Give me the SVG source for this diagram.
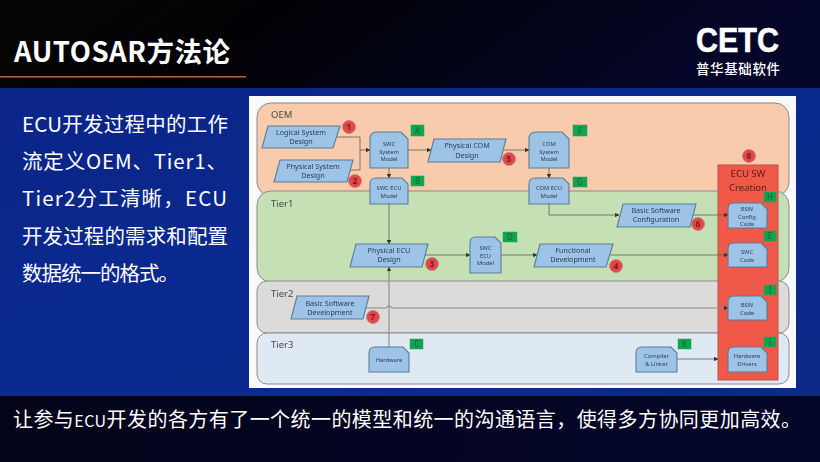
<svg xmlns="http://www.w3.org/2000/svg" width="820" height="462" viewBox="0 0 820 462">
<defs>
<linearGradient id="top" x1="0" y1="0" x2="1" y2="0.15"><stop offset="0" stop-color="#070503"/><stop offset="0.35" stop-color="#010105"/><stop offset="1" stop-color="#04062a"/></linearGradient>
<linearGradient id="band" x1="0" y1="0" x2="1" y2="1"><stop offset="0" stop-color="#0b2488"/><stop offset="0.5" stop-color="#0a2a90"/><stop offset="1" stop-color="#0c2a86"/></linearGradient>
<linearGradient id="foot" x1="0" y1="0" x2="1" y2="0"><stop offset="0" stop-color="#03031a"/><stop offset="1" stop-color="#03062a"/></linearGradient>
<filter id="soft" x="-2%" y="-2%" width="104%" height="104%"><feGaussianBlur stdDeviation="0.45"/></filter>
<marker id="arr" viewBox="0 0 6 6" refX="5.5" refY="3" markerWidth="4.5" markerHeight="4.5" markerUnits="userSpaceOnUse" orient="auto"><path d="M0 0L6 3L0 6Z" fill="#333"/></marker>
</defs>
<style>
.cjk{font-family:"Noto Sans CJK SC","Noto Sans",sans-serif;fill:#fff}
.lane{stroke:#8b8b8b;stroke-width:1}
.shape{fill:#9dc3e6;stroke:#5b7d96;stroke-width:1.1}
.t{font-family:"Noto Sans","Liberation Sans",sans-serif;font-size:7.2px;fill:#2c4058;text-anchor:middle}
.s{font-size:5.8px}
.lbl{font-family:"Noto Sans","Liberation Sans",sans-serif;font-size:9.5px;fill:#4a4a4a}
.g{fill:#0aa650;stroke:#2f9a5a;stroke-width:.5}
.gt{font-family:"Noto Sans","Liberation Sans",sans-serif;font-size:8px;fill:#1d5a30;text-anchor:middle}
.b{fill:#e0474a;stroke:#c98080;stroke-width:.8}
.bt{font-family:"Noto Sans","Liberation Sans",sans-serif;font-size:8.5px;font-weight:700;fill:#7d1a1c;text-anchor:middle}
.c{fill:none;stroke:#5a5f55;stroke-width:.8}
.c2{fill:none;stroke:#8a8a8a;stroke-width:1.1}
</style>
<rect width="820" height="462" fill="#03031a"/>
<rect width="820" height="88" fill="url(#top)"/>
<rect y="88" width="820" height="308" fill="url(#band)"/>
<rect y="396" width="820" height="66" fill="url(#foot)"/>
<rect x="0" y="76" width="246" height="1.6" fill="#a9643c"/>
<text class="cjk" x="14" y="62" font-size="27.5" font-weight="700" textLength="216">AUTOSAR方法论</text>
<g id="logo">
<text x="696" y="52" font-family="'Liberation Sans',sans-serif" font-size="35" font-weight="700" fill="#fff" stroke="#fff" stroke-width=".6" textLength="83" lengthAdjust="spacingAndGlyphs">CETC</text>
<text class="cjk" x="696" y="74" font-size="13.5" font-weight="500" textLength="84">普华基础软件</text>
</g>
<g id="intro" class="cjk" font-size="20.500">
<text x="22" y="132" textLength="206">ECU开发过程中的工作</text>
<text x="22" y="169" textLength="205">流定义OEM、Tier1、</text>
<text x="22" y="206" textLength="205">Tier2分工清晰，ECU</text>
<text x="22" y="244" textLength="206">开发过程的需求和配置</text>
<text x="22" y="281" textLength="157">数据统一的格式。</text>
</g>
<text class="cjk" x="13" y="427" font-size="20" textLength="788">让参与<tspan font-size="16">ECU</tspan>开发的各方有了一个统一的模型和统一的沟通语言，使得多方协同更加高效。</text>

<rect x="249" y="96" width="547" height="292" fill="#f7f9fb"/>
<g filter="url(#soft)">
<g id="lanes">
<rect id="lane-oem" class="lane" x="257" y="103" width="532" height="93" rx="14" fill="#f8cbad"/>
<rect id="lane-tier1" class="lane" x="257" y="191" width="532" height="91" rx="14" fill="#c5e0b4"/>
<rect id="lane-tier2" class="lane" x="257" y="281" width="532" height="52" rx="10" fill="#dcdbd9"/>
<rect id="lane-tier3" class="lane" x="257" y="333" width="532" height="51" rx="10" fill="#dfe9f4"/>
<text class="lbl" x="271" y="118">OEM</text>
<text class="lbl" x="271" y="207">Tier1</text>
<text class="lbl" x="271" y="297">Tier2</text>
<text class="lbl" x="271" y="348">Tier3</text>
</g>
<g id="ecu-sw-creation">
<rect x="718" y="165" width="60" height="215" fill="#f0584a" stroke="#b9504a" stroke-width="1"/>
<text x="748" y="177" font-family="'Noto Sans',sans-serif" font-size="9.500" fill="#5a2018" text-anchor="middle">ECU SW</text>
<text x="748" y="190.500" font-family="'Noto Sans',sans-serif" font-size="9.500" fill="#5a2018" text-anchor="middle">Creation</text>
<circle class="b" cx="749" cy="156" r="6.5"/><text class="bt" x="749" y="159">8</text>
</g>
<g id="connectors">
<path class="c" d="M336 137H360V170H350"/>
<path class="c" d="M360 150H370" marker-end="url(#arr)"/>
<path class="c" d="M408 150H431" marker-end="url(#arr)"/>
<path class="c" d="M503 150H529" marker-end="url(#arr)"/>
<path class="c" d="M389 168V178" marker-end="url(#arr)"/>
<path class="c" d="M389 204V244" marker-end="url(#arr)"/>
<path class="c" d="M549 168V178" marker-end="url(#arr)"/>
<path class="c" d="M549 204V215H619" marker-end="url(#arr)"/>
<path class="c" d="M693 215H728" marker-end="url(#arr)"/>
<path class="c" d="M425 255H470" marker-end="url(#arr)"/>
<path class="c" d="M501 255H537" marker-end="url(#arr)"/>
<path class="c" d="M610 255H728" marker-end="url(#arr)"/>
<path class="c2" d="M389 347V267" marker-end="url(#arr)"/>
<path class="c2" d="M366 308H386Q389 304 392 308H728" marker-end="url(#arr)"/>
<path class="c" d="M677 359H718" marker-end="url(#arr)"/>
</g>
<g id="n1"><polygon class="shape" points="262,148 268,126 340,126 333,148"/><text class="t" x="301" y="135">Logical System</text><text class="t" x="301" y="144">Design</text><circle class="b" cx="349" cy="127" r="6.5"/><text class="bt" x="349" y="130">1</text></g>
<g id="n2"><polygon class="shape" points="274,182 280,160 353,160 347,182"/><text class="t" x="313" y="169">Physical System</text><text class="t" x="313" y="178">Design</text><circle class="b" cx="355" cy="181" r="6.5"/><text class="bt" x="355" y="184">2</text></g>
<g id="nA"><path class="shape" d="M370 168V139Q370 132 377 132H401L408 139V168Z"/><text class="t s" x="389" y="146">SWC</text><text class="t s" x="389" y="153.500">System</text><text class="t s" x="389" y="161">Model</text><rect class="g" x="411" y="125" width="13" height="11"/><text class="gt" x="417.500" y="133.500">A</text></g>
<g id="nB"><path class="shape" d="M370 204V184Q370 178 376 178H402L408 184V204Z"/><text class="t s" x="389" y="190">SWC ECU</text><text class="t s" x="389" y="198">Model</text><rect class="g" x="411" y="176" width="13" height="10"/><text class="gt" x="417.500" y="184">B</text></g>
<g id="n5"><polygon class="shape" points="428,162 434,139 506,139 500,162"/><text class="t" x="467" y="148">Physical COM</text><text class="t" x="467" y="158">Design</text><circle class="b" cx="509" cy="159" r="6.5"/><text class="bt" x="509" y="162">5</text></g>
<g id="nF"><path class="shape" d="M529 168V139Q529 132 536 132H562L569 139V168Z"/><text class="t s" x="549" y="146">COM</text><text class="t s" x="549" y="153.500">System</text><text class="t s" x="549" y="161">Model</text><rect class="g" x="573" y="125" width="14" height="11"/><text class="gt" x="580" y="133.500">F</text></g>
<g id="nG"><path class="shape" d="M529 204V184Q529 178 535 178H563L569 184V204Z"/><text class="t s" x="549" y="190">COM ECU</text><text class="t s" x="549" y="198">Model</text><rect class="g" x="573" y="177" width="14" height="10"/><text class="gt" x="580" y="185">G</text></g>
<g id="n6"><polygon class="shape" points="617,227 623,204 696,204 690,227"/><text class="t" x="656" y="213">Basic Software</text><text class="t" x="656" y="222">Configuration</text><circle class="b" cx="698" cy="224" r="6.5"/><text class="bt" x="698" y="227">6</text></g>
<g id="nH"><path class="shape" d="M728 228V209Q728 203 734 203H761L767 209V228Z"/><text class="t s" x="747" y="211">BSW</text><text class="t s" x="747" y="218.500">Config</text><text class="t s" x="747" y="226">Code</text><rect class="g" x="764" y="192" width="12" height="10"/><text class="gt" x="770" y="200">H</text></g>
<g id="nE"><path class="shape" d="M728 267V249Q728 243 734 243H761L767 249V267Z"/><text class="t s" x="747" y="254">SWC</text><text class="t s" x="747" y="262">Code</text><rect class="g" x="764" y="231" width="12" height="10"/><text class="gt" x="770" y="239">E</text></g>
<g id="n3"><polygon class="shape" points="350,267 356,244 428,244 422,267"/><text class="t" x="389" y="253">Physical ECU</text><text class="t" x="389" y="262">Design</text><circle class="b" cx="432" cy="264" r="6.5"/><text class="bt" x="432" y="267">3</text></g>
<g id="nD"><path class="shape" d="M470 273V243Q470 237 476 237H495L501 243V273Z"/><text class="t s" x="485.500" y="250">SWC</text><text class="t s" x="485.500" y="257.500">ECU</text><text class="t s" x="485.500" y="265">Model</text><rect class="g" x="503" y="232" width="14" height="10"/><text class="gt" x="510" y="240">D</text></g>
<g id="n4"><polygon class="shape" points="534,267 540,244 613,244 606,267"/><text class="t" x="573" y="253">Functional</text><text class="t" x="573" y="262">Development</text><circle class="b" cx="616" cy="266" r="6.5"/><text class="bt" x="616" y="269">4</text></g>
<g id="n7"><polygon class="shape" points="291,319 297,296 369,296 363,319"/><text class="t" x="330" y="306">Basic Software</text><text class="t" x="330" y="315">Development</text><circle class="b" cx="373" cy="317" r="6.5"/><text class="bt" x="373" y="320">7</text></g>
<g id="nI"><path class="shape" d="M728 320V302Q728 296 734 296H761L767 302V320Z"/><text class="t s" x="747" y="307">BSW</text><text class="t s" x="747" y="315">Code</text><rect class="g" x="764" y="285" width="12" height="10"/><text class="gt" x="770" y="293">I</text></g>
<g id="nC"><path class="shape" d="M369 372V353Q369 347 375 347H403L409 353V372Z"/><text class="t s" x="389" y="362">Hardware</text><rect class="g" x="410" y="339" width="13" height="10"/><text class="gt" x="416.500" y="347">C</text></g>
<g id="nK"><path class="shape" d="M636 372V353Q636 347 642 347H671L677 353V372Z"/><text class="t s" x="656.500" y="358">Compiler</text><text class="t s" x="656.500" y="366">&amp; Linker</text><rect class="g" x="678" y="339" width="13" height="10"/><text class="gt" x="684.500" y="347">K</text></g>
<g id="nJ"><path class="shape" d="M728 372V353Q728 347 734 347H761L767 353V372Z"/><text class="t s" x="747" y="358">Hardware</text><text class="t s" x="747" y="366">Drivers</text><rect class="g" x="764" y="337" width="12" height="10"/><text class="gt" x="770" y="345">J</text></g>
</g>
</svg>
